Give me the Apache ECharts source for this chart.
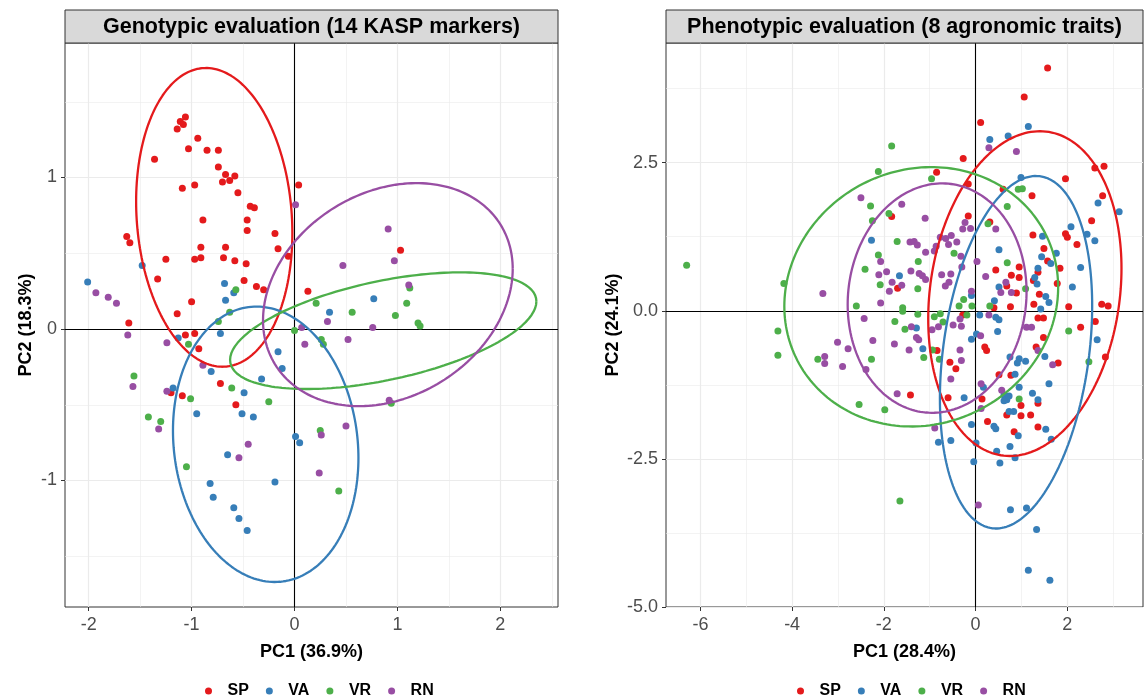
<!DOCTYPE html>
<html><head><meta charset="utf-8">
<script src="https://cdn.jsdelivr.net/npm/echarts@6/dist/echarts.min.js"></script>
<style>html,body{margin:0;padding:0;background:#fff}#c{width:1147px;height:697px}</style>
</head><body><div id="c"></div><script>
// ---------------- DATA ----------------
const groups = ['SP', 'VA', 'VR', 'RN'];
const groupColors = ['#E41A1C', '#377EB8', '#4DAF4A', '#984EA3'];

const panelTitles = ['Genotypic evaluation (14 KASP markers)', 'Phenotypic evaluation (8 agronomic traits)'];
const xTitles = ['PC1 (36.9%)', 'PC1 (28.4%)'];
const yTitles = ['PC2 (18.3%)', 'PC2 (24.1%)'];

// Genotypic panel axes
const genoXRange = [-2.23, 2.56];
const genoYRange = [-1.835, 1.888];
const genoXTicks = [-2, -1, 0, 1, 2];
const genoYTicks = [-1, 0, 1];
const genoXMinor = [-1.5, -0.5, 0.5, 1.5, 2.5];
const genoYMinor = [-1.5, -0.5, 0.5, 1.5];

// Phenotypic panel axes
const phenoXRange = [-6.75, 3.65];
const phenoYRange = [-5.0, 4.52];
const phenoXTicks = [-6, -4, -2, 0, 2];
const phenoYTicks = [-5, -2.5, 0, 2.5];
const phenoXMinor = [-5, -3, -1, 1, 3];
const phenoYMinor = [-3.75, -1.25, 1.25, 3.75];

// Genotypic PCA scores
const genoSP = [[-1.06,1.40],[-1.11,1.37],[-1.08,1.35],[-1.14,1.32],[-0.94,1.26],[-1.03,1.19],[-0.85,1.18],[-0.74,1.18],[-1.36,1.12],[-0.74,1.07],[-0.67,1.02],[-0.58,1.01],[-0.70,0.97],[-0.63,0.98],[-1.09,0.93],[-0.97,0.95],[-0.55,0.90],[0.04,0.95],[-0.43,0.81],[-0.39,0.80],[-0.89,0.72],[-0.46,0.72],[-0.46,0.65],[-0.19,0.63],[-1.63,0.61],[-1.60,0.57],[-0.16,0.53],[-0.91,0.54],[-0.67,0.54],[-0.06,0.48],[-1.25,0.46],[-0.97,0.46],[-0.91,0.47],[-0.69,0.47],[-0.58,0.45],[-0.47,0.43],[-1.33,0.33],[-0.49,0.32],[-0.37,0.28],[-0.30,0.26],[0.13,0.25],[-1.00,0.18],[-1.14,0.10],[-1.61,0.04],[1.03,0.52],[-1.06,-0.04],[-0.97,-0.03],[-0.93,-0.13],[-0.72,-0.36],[-1.20,-0.42],[-1.09,-0.44],[-0.57,-0.50]];
const genoVA = [[-2.01,0.31],[-1.48,0.42],[-0.68,0.30],[-0.67,0.19],[-0.59,0.24],[0.77,0.20],[0.34,0.11],[-0.72,-0.03],[-1.13,-0.06],[-0.16,-0.15],[-0.12,-0.26],[-0.81,-0.28],[-0.32,-0.33],[-1.18,-0.39],[-0.49,-0.42],[-0.95,-0.56],[-0.51,-0.56],[-0.40,-0.58],[0.01,-0.71],[0.05,-0.75],[-0.65,-0.83],[-0.19,-1.01],[-0.82,-1.02],[-0.79,-1.11],[-0.59,-1.18],[-0.54,-1.25],[-0.46,-1.33]];
const genoVR = [[-0.57,0.26],[-0.63,0.11],[-0.74,0.05],[0.21,0.17],[0.56,0.11],[1.09,0.17],[1.12,0.27],[0.98,0.09],[1.20,0.04],[1.22,0.02],[0.00,-0.01],[-1.03,-0.10],[-1.56,-0.31],[-0.61,-0.39],[-1.01,-0.46],[-0.25,-0.48],[-1.42,-0.58],[-1.30,-0.61],[-1.05,-0.91],[0.26,-0.07],[0.28,-0.10],[0.94,-0.49],[0.25,-0.67],[0.43,-1.07]];
const genoRN = [[-1.93,0.24],[-1.81,0.21],[-1.73,0.17],[0.01,0.82],[0.91,0.66],[0.97,0.45],[0.47,0.42],[1.11,0.29],[0.32,0.05],[0.76,0.01],[-1.62,-0.04],[-1.24,-0.09],[-0.89,-0.24],[-1.57,-0.38],[-1.24,-0.41],[-1.32,-0.66],[-0.45,-0.76],[-0.54,-0.85],[0.07,0.01],[0.10,-0.10],[0.52,-0.07],[0.92,-0.47],[0.26,-0.70],[0.50,-0.64],[0.24,-0.95]];

// Phenotypic PCA scores
const phenoSP = [[-0.27,2.57],[-0.85,2.34],[-0.16,2.14],[-1.83,1.59],[-0.16,1.60],[-1.70,0.38],[-0.28,-0.07],[-0.84,-0.67],[-0.56,-0.87],[-0.43,-0.98],[-1.42,-1.42],[-0.60,-1.47],[0.11,3.18],[1.96,2.23],[2.60,2.41],[2.80,2.44],[2.77,1.94],[2.53,1.52],[1.23,1.94],[0.60,2.05],[0.31,1.50],[1.25,1.28],[1.96,1.30],[2.00,1.24],[2.21,1.12],[1.49,1.05],[1.57,0.84],[1.84,0.72],[0.95,0.74],[0.44,0.69],[0.78,0.60],[0.95,0.56],[1.36,0.65],[1.26,0.51],[1.78,0.46],[0.68,0.42],[0.89,0.30],[1.39,0.28],[1.27,0.11],[0.76,0.07],[0.40,0.05],[2.03,0.07],[2.75,0.11],[2.89,0.08],[1.36,-0.12],[1.48,-0.12],[2.61,-0.18],[2.29,-0.28],[1.48,-0.45],[0.20,-0.61],[0.24,-0.67],[1.32,-0.61],[1.80,-0.88],[2.83,-0.78],[0.51,-1.08],[0.77,-1.09],[0.14,-1.49],[0.99,-1.60],[0.99,-1.77],[1.36,-1.56],[0.68,-1.76],[1.20,-1.76],[0.26,-1.87],[0.84,-2.04],[1.36,-1.96],[1.57,4.10],[1.06,3.61]];
const phenoVA = [[-2.27,1.19],[-1.66,0.59],[-1.29,-0.29],[-1.15,-0.64],[-0.09,-0.48],[-0.09,0.26],[0.02,-0.39],[-0.25,-1.47],[-0.09,-1.92],[-0.81,-2.22],[-0.54,-2.19],[-0.04,-2.55],[1.15,3.11],[0.31,2.89],[0.71,2.95],[0.99,2.25],[2.67,1.82],[3.13,1.67],[2.08,1.42],[2.43,1.29],[2.60,1.18],[1.46,1.26],[0.51,1.03],[1.44,0.91],[1.76,0.97],[1.64,0.80],[2.29,0.73],[1.36,0.72],[1.29,0.56],[1.34,0.45],[0.51,0.40],[2.11,0.40],[1.53,0.24],[1.60,0.14],[0.41,0.17],[1.42,0.03],[0.09,-0.07],[0.44,-0.11],[0.51,-0.15],[0.48,-0.35],[2.65,-0.49],[1.51,-0.77],[0.75,-0.78],[0.95,-0.81],[1.09,-0.85],[0.91,-0.88],[0.86,-1.07],[1.60,-1.23],[0.17,-1.29],[0.95,-1.29],[0.62,-1.42],[0.68,-1.50],[0.62,-1.52],[0.73,-1.44],[1.24,-1.39],[1.36,-1.50],[0.73,-1.70],[0.83,-1.70],[0.40,-1.95],[0.44,-1.99],[1.53,-2.00],[0.93,-2.11],[1.65,-2.17],[0.01,-2.23],[0.46,-2.37],[0.75,-2.29],[0.86,-2.48],[0.53,-2.57],[1.33,-3.69],[0.76,-3.36],[1.11,-3.33],[1.15,-4.38],[1.62,-4.55]];
const phenoVR = [[-1.83,2.78],[-6.30,0.77],[-4.18,0.46],[-4.31,-0.34],[-2.12,2.35],[-0.96,2.23],[-2.29,1.77],[-1.89,1.64],[-2.25,1.52],[-1.71,1.17],[-2.12,0.94],[-1.25,0.83],[-2.41,0.70],[-0.47,0.97],[-2.08,0.44],[-1.26,0.37],[-2.60,0.08],[-1.59,0.05],[-1.59,-0.01],[-1.26,-0.06],[-0.90,-0.10],[-0.77,-0.05],[-0.71,-0.19],[-1.76,-0.18],[-1.54,-0.31],[-0.26,0.19],[-0.36,0.08],[-0.08,0.08],[-0.19,-0.07],[-0.94,-0.66],[-1.13,-0.79],[-0.79,-0.82],[-2.27,-0.82],[-2.54,-1.58],[-1.98,-1.67],[-4.31,-0.75],[-3.44,-0.82],[-1.65,-3.21],[0.93,2.05],[1.02,2.06],[0.69,1.76],[0.27,1.47],[0.69,0.81],[1.09,0.37],[0.31,0.08],[2.03,-0.34],[2.47,-0.86],[0.95,-1.49]];
const phenoRN = [[-2.50,1.91],[-1.61,1.80],[-1.10,1.56],[-1.43,1.16],[-1.34,1.17],[-1.27,1.11],[-2.07,0.83],[-1.94,0.66],[-2.11,0.61],[-1.82,0.48],[-1.61,0.43],[-1.88,0.33],[-1.09,0.99],[-1.41,0.67],[-1.23,0.63],[-1.16,0.59],[-1.09,0.53],[-0.86,1.09],[-0.77,1.24],[-0.65,1.22],[-0.53,1.27],[-0.59,1.12],[-0.41,1.16],[-0.90,1.01],[-0.23,1.49],[-0.28,1.38],[-0.11,1.39],[-0.32,0.92],[-0.30,0.74],[-0.74,0.61],[-0.54,0.62],[-0.66,0.42],[-0.58,0.48],[0.03,0.83],[-0.09,0.33],[-2.07,0.13],[-2.43,-0.13],[-2.24,-0.50],[-1.77,-0.56],[-1.40,-0.27],[-1.29,-0.45],[-1.24,-0.49],[-1.45,-0.66],[-0.95,-0.32],[-0.81,-0.27],[-0.49,-0.24],[-0.31,-0.26],[-0.34,-0.14],[-0.34,-0.66],[-0.31,-0.84],[-3.01,-0.53],[-2.78,-0.64],[-2.90,-0.94],[-2.39,-0.99],[-0.54,-1.15],[-1.71,-1.40],[-0.89,-1.98],[-3.33,0.29],[-3.29,-0.77],[-3.29,-0.89],[0.29,2.75],[0.89,2.69],[0.44,1.38],[0.22,0.58],[0.66,0.48],[0.55,0.31],[0.78,0.31],[0.29,-0.07],[1.11,-0.28],[1.22,-0.28],[0.11,-0.42],[1.36,-0.67],[1.68,-0.91],[0.12,-1.23],[0.57,-1.34],[0.12,-1.65],[0.06,-3.28]];

// 95% confidence ellipses: [centerX, centerY, halfWidthX, halfHeightY, x-offset of topmost point]
const genoEllSP = [-0.78, 0.737, 0.759, 0.986, -0.080];
const genoEllVA = [-0.280, -0.761, 0.901, 0.909, -0.089];
const genoEllVR = [0.862, -0.011, 1.488, 0.385, 0.745];
const genoEllRN = [0.907, 0.227, 1.213, 0.736, 0.280];
const phenoEllSP = [1.074, 0.290, 2.107, 2.741, 0.327];
const phenoEllVA = [0.882, -0.700, 1.660, 2.975, 0.436];
const phenoEllVR = [-1.185, 0.236, 2.985, 2.189, 0.218];
const phenoEllRN = [-0.839, 0.214, 1.950, 1.936, 0.109];

// ---------------- CHART ----------------
const FONT = "'Liberation Sans', Arial, Helvetica, sans-serif";
const panels = [
  { pts: [genoSP, genoVA, genoVR, genoRN], ell: [genoEllSP, genoEllVA, genoEllVR, genoEllRN],
    xr: genoXRange, yr: genoYRange, xt: genoXTicks, yt: genoYTicks, xm: genoXMinor, ym: genoYMinor,
    fmtY: v => String(v), grid: { left: 65, top: 43, width: 493, height: 564 }, yGap: 30, legLeft: 200 },
  { pts: [phenoSP, phenoVA, phenoVR, phenoRN], ell: [phenoEllSP, phenoEllVA, phenoEllVR, phenoEllRN],
    xr: phenoXRange, yr: phenoYRange, xt: phenoXTicks, yt: phenoYTicks, xm: phenoXMinor, ym: phenoYMinor,
    fmtY: v => v.toFixed(1), grid: { left: 666, top: 43, width: 477, height: 564 }, yGap: 44, legLeft: 792 }
];

function ellipsePath(p) {
  const [cx, cy, hx, hy, top] = p;
  const phi = Math.asin(top / hx);
  const out = [];
  for (let i = 0; i <= 200; i++) {
    const t = i / 200 * 2 * Math.PI;
    out.push([cx + hx * Math.cos(t), cy + hy * Math.sin(t + phi)]);
  }
  return out;
}

const grids = [], xAxes = [], yAxes = [], series = [], graphics = [], legends = [];
panels.forEach((P, k) => {
  grids.push(Object.assign({ show: true, borderColor: '#333333', borderWidth: 1, backgroundColor: '#fff', containLabel: false }, P.grid));
  const axisCommon = (ticks, fmt) => ({
    axisLine: { show: false, onZero: false },
    axisTick: { show: true, inside: false, length: 4, customValues: ticks, lineStyle: { color: '#333333', width: 1 } },
    axisLabel: { show: true, customValues: ticks, formatter: fmt, color: '#4D4D4D', fontSize: 18, fontFamily: FONT },
    splitLine: { show: false },
    nameTextStyle: { fontFamily: FONT, fontWeight: 'bold', fontSize: 18, color: '#000' },
    nameLocation: 'middle'
  });
  xAxes.push(Object.assign(axisCommon(P.xt, v => String(v)), {
    type: 'value', gridIndex: k, min: P.xr[0], max: P.xr[1], position: 'bottom',
    name: xTitles[k], nameGap: 36
  }));
  xAxes[k].axisLabel.margin = 9;
  yAxes.push(Object.assign(axisCommon(P.yt, P.fmtY), {
    type: 'value', gridIndex: k, min: P.yr[0], max: P.yr[1], position: 'left',
    name: yTitles[k], nameGap: P.yGap
  }));
  yAxes[k].axisLabel.margin = 8;

  // grid lines + zero lines
  const gl = (arr, axis, w, col) => arr.map(v => ({ [axis]: v, lineStyle: { color: col, width: w, type: 'solid' } }));
  series.push({
    type: 'scatter', name: 'grid' + k, xAxisIndex: k, yAxisIndex: k, data: [], silent: true, z: 0,
    markLine: {
      silent: true, symbol: 'none', label: { show: false }, animation: false, z: 0,
      data: [].concat(gl(P.xm, 'xAxis', 0.6, '#EBEBEB'), gl(P.ym, 'yAxis', 0.6, '#EBEBEB'),
                      gl(P.xt, 'xAxis', 1.2, '#EBEBEB'), gl(P.yt, 'yAxis', 1.2, '#EBEBEB'))
    }
  });
  series.push({
    type: 'scatter', name: 'zero' + k, xAxisIndex: k, yAxisIndex: k, data: [], silent: true, z: 1,
    markLine: {
      silent: true, symbol: 'none', label: { show: false }, animation: false, z: 1,
      data: [{ xAxis: 0, lineStyle: { color: '#000', width: 1.1, type: 'solid' } },
             { yAxis: 0, lineStyle: { color: '#000', width: 1.1, type: 'solid' } }]
    }
  });
  groups.forEach((g, i) => {
    series.push({
      type: 'scatter', name: g, xAxisIndex: k, yAxisIndex: k, data: P.pts[i],
      symbol: 'circle', symbolSize: 7, z: 2,
      itemStyle: { color: groupColors[i], opacity: 1, borderWidth: 0 }, animation: false
    });
  });
  groups.forEach((g, i) => {
    series.push({
      type: 'line', name: g + ' ellipse', xAxisIndex: k, yAxisIndex: k, data: ellipsePath(P.ell[i]),
      showSymbol: false, symbol: 'none', smooth: false, z: 3, silent: true, animation: false,
      lineStyle: { color: groupColors[i], width: 2.3 }
    });
  });

  // facet strip
  const g = P.grid;
  graphics.push({
    type: 'rect', shape: { x: g.left, y: 10, width: g.width, height: 33 },
    style: { fill: '#D9D9D9', stroke: '#333333', lineWidth: 1 }, z: 10
  });
  graphics.push({
    type: 'text', x: g.left + g.width / 2, y: 27, z: 11,
    style: { text: panelTitles[k], fill: '#000', font: "bold 21.5px " + FONT, textAlign: 'center', textVerticalAlign: 'middle' }
  });

  legends.push({
    data: groups.map(n => ({ name: n, icon: 'circle' })),
    left: P.legLeft, top: 678, orient: 'horizontal',
    itemWidth: 28, itemHeight: 7, itemGap: 17, selectedMode: false,
    textStyle: { fontFamily: FONT, fontWeight: 'bold', fontSize: 16, color: '#000', padding: [0, 0, 0, 0] }
  });
});

const chart = echarts.init(document.getElementById('c'), null, { renderer: 'canvas' });
chart.setOption({
  backgroundColor: '#fff', animation: false,
  grid: grids, xAxis: xAxes, yAxis: yAxes, series: series, legend: legends,
  graphic: graphics
});
</script></body></html>
